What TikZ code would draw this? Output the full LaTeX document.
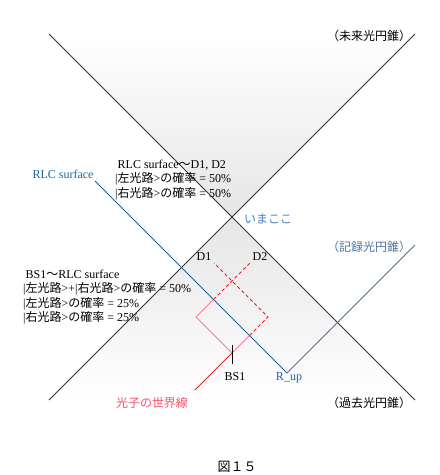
\documentclass[tikz,border=0pt]{standalone}
\usepackage{fontspec}
\setmainfont{Liberation Serif}
\newfontfamily\jp{Noto Sans CJK JP}
\usetikzlibrary{positioning}

\definecolor{rlcblue}{RGB}{30,100,160}
\definecolor{recblue}{RGB}{75,115,160}
\definecolor{nowblue}{RGB}{70,130,190}
\definecolor{conegray}{RGB}{50,50,50}
\definecolor{photonred}{RGB}{245,25,35}
\definecolor{photonpink}{RGB}{255,120,145}
\definecolor{labelpink}{RGB}{250,80,100}

\begin{document}
\begin{tikzpicture}[x=1pt, y=-1pt,
    every node/.style={inner sep=0pt, font=\fontsize{12}{14.5}\selectfont},
    cone/.style={draw=conegray, line width=0.8pt},
    surface/.style={draw=rlcblue, line width=0.8pt},
    photon/.style={draw=photonred, line width=0.8pt},
    beam/.style={draw=photonpink, line width=0.9pt},
    ghost/.style={draw=photonred, line width=0.8pt, dash pattern=on 3.5pt off 2.5pt}]

    \useasboundingbox (0,0) rectangle (440,475);

    % light cone corners and apex
    \coordinate (futL) at (49,34);
    \coordinate (futR) at (415,34);
    \coordinate (pastL) at (49,400);
    \coordinate (pastR) at (415,400);
    \coordinate (now) at (232,217);

    \shade[top color=white, bottom color=black!10] (futL) -- (futR) -- (now) -- cycle;
    \shade[top color=black!10, bottom color=white] (now) -- (pastR) -- (pastL) -- cycle;

    \draw[cone] (futL) -- (pastR);
    \draw[cone] (pastL) -- (futR);

    % RLC surface and record cone
    \coordinate (rlc) at (95,181);
    \coordinate (rup) at (287,373);
    \coordinate (rec) at (415,245);
    \draw[surface] (rlc) -- (rup);
    \draw[draw=recblue, line width=0.8pt] (rup) -- (rec);

    % photon paths
    \coordinate (src) at (195,390);
    \coordinate (bs) at (232,353);
    \coordinate (lc) at (196,317);
    \coordinate (rc) at (268,317);
    \coordinate (lx) at (213.5,299.5);
    \coordinate (rx) at (249.5,335.5);
    \coordinate (d1end) at (214,263);
    \coordinate (d2end) at (250,263);
    \draw[photon] (src) -- (bs);
    \draw[beam] (bs) -- (lc) -- (lx);
    \draw[beam] (bs) -- (rx);
    \draw[ghost] (lx) -- (d2end);
    \draw[ghost] (rx) -- (rc) -- (d1end);
    \draw[line width=0.9pt] (232,345) -- (232,364);

    % labels
    \node (futlbl) at (369,36) {\jp （未来光円錐）};
    \node[text=recblue] (reclbl) at (369,247) {\jp （記録光円錐）};
    \node (pastlbl) at (369,403) {\jp （過去光円錐）};
    \node[text=nowblue] (nowlbl) at (268,219) {\jp いまここ};
    \node[text=rlcblue] (rlclbl) at (63,174) {RLC surface};
    \node (d1) at (204,257) {D1};
    \node (d2) at (260,257) {D2};
    \node (bs1) at (235,377) {BS1};
    \node[text=rlcblue] (ruplbl) at (289,378) {R\_up};
    \node[text=labelpink] (photonlbl) at (152,403) {\jp 光子の世界線};

    \node[anchor=west, align=left] (late) at (115,180)
        {\hspace{2.5pt}RLC surface{\jp ～}D1, D2\\
         |{\jp 左光路}>{\jp の確率} = 50\%\\
         |{\jp 右光路}>{\jp の確率} = 50\%};
    \node[anchor=west, align=left] (early) at (23,297)
        {\hspace{2.5pt}BS1{\jp ～}RLC surface\\
         |{\jp 左光路}>+|{\jp 右光路}>{\jp の確率} = 50\%\\
         |{\jp 左光路}>{\jp の確率} = 25\%\\
         |{\jp 右光路}>{\jp の確率} = 25\%};

    \node[font=\fontsize{13}{15}\selectfont] (caption) at (237,467) {\jp 図１５};
\end{tikzpicture}
\end{document}
